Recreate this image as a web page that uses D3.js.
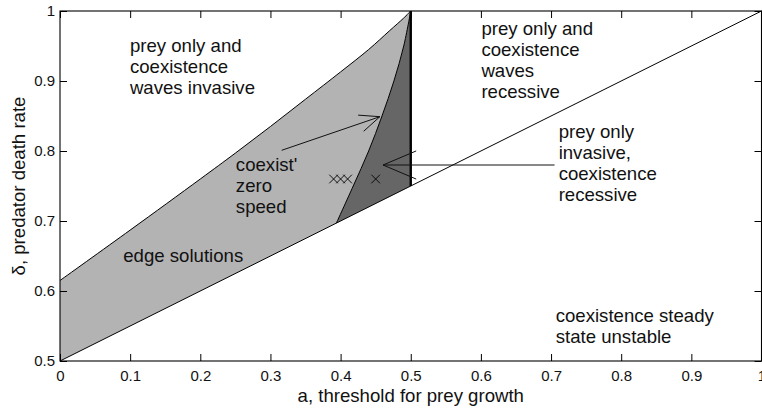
<!DOCTYPE html>
<html>
<head>
<meta charset="utf-8">
<script src="https://cdn.jsdelivr.net/npm/d3@7"></script>
<style>
  html, body { margin: 0; padding: 0; background: #fff; }
  svg { display: block; }
  text { font-family: "Liberation Sans", Arial, Helvetica, sans-serif; fill: #111; }
</style>
</head>
<body>
<svg id="chart" width="762" height="411"></svg>
<script>
// Upper edge of the light region (boundary of "waves invasive" zone)
const upperA = [0, 0.10, 0.20, 0.25, 0.30, 0.35, 0.40, 0.44, 0.47, 0.49, 0.5];
const upperD = [0.615, 0.687, 0.760, 0.797, 0.835, 0.874, 0.913, 0.945, 0.972, 0.990, 1.0];

// Zero-speed curve separating the light and dark regions
const innerA = [0.5, 0.490, 0.476, 0.459, 0.440, 0.418, 0.394];
const innerD = [1.0, 0.95, 0.90, 0.85, 0.80, 0.75, 0.697];

// Straight boundary delta = (1 + a) / 2
const diagA = [0, 1];
const diagD = [0.5, 1];

// Vertical boundary at a = 0.5
const wallA = [0.5, 0.5];
const wallD = [0.75, 1.0];

// Simulation points
const crossA = [0.39, 0.40, 0.41, 0.45];
const crossD = [0.76, 0.76, 0.76, 0.76];

// Arrows: tail and tip positions
const arrowTailA = [0.316, 0.705];
const arrowTailD = [0.801, 0.78];
const arrowTipA = [0.456, 0.4605];
const arrowTipD = [0.849, 0.78];

// Axis ticks
const xTicks = [0, 0.1, 0.2, 0.3, 0.4, 0.5, 0.6, 0.7, 0.8, 0.9, 1];
const yTicks = [0.5, 0.6, 0.7, 0.8, 0.9, 1];
const xTickLabels = ["0", "0.1", "0.2", "0.3", "0.4", "0.5", "0.6", "0.7", "0.8", "0.9", "1"];
const yTickLabels = ["0.5", "0.6", "0.7", "0.8", "0.9", "1"];

// Region annotations
const noteLines = [
  ["prey only and", "coexistence", "waves invasive"],
  ["prey only and", "coexistence", "waves", "recessive"],
  ["prey only", "invasive,", "coexistence", "recessive"],
  ["coexist'", "zero", "speed"],
  ["edge solutions"],
  ["coexistence steady", "state unstable"]
];
const noteA = [0.0997, 0.6007, 0.7108, 0.2507, 0.0902, 0.7066];
const noteD = [0.9414, 0.9657, 0.818, 0.7714, 0.641, 0.5561];

const xLabel = "a, threshold for prey growth";
const yLabel = "δ, predator death rate";

(function draw() {
  const svg = d3.select("#chart");
  const pl = 60, pr = 761.5, pt0 = 11, pb = 361;
  const noteSize = "18.6px";

  const x = d3.scaleLinear().domain([0, 1]).range([pl, pr]);
  const y = d3.scaleLinear().domain([0.5, 1]).range([pb, pt0]);

  const zip = (as, ds) => as.map((a, i) => [a, ds[i]]);
  const upperPts = zip(upperA, upperD);
  const innerPts = zip(innerA, innerD);

  const curve = d3.line().x(d => x(d[0])).y(d => y(d[1])).curve(d3.curveCatmullRom.alpha(0.5));
  const straight = d3.line().x(d => x(d[0])).y(d => y(d[1]));
  const pt = (a, d) => `${x(a)},${y(d)}`;

  const upperPath = curve(upperPts);
  const innerPath = curve(innerPts);

  // Light region: left axis, upper edge, zero-speed curve, back along the diagonal
  svg.append("path")
    .attr("d", "M" + pt(0, 0.5) + "L" + upperPath.slice(1) + "L" + innerPath.slice(1) + "Z")
    .attr("fill", "#b3b3b3").attr("stroke", "none");

  // Dark region: zero-speed curve, diagonal, vertical wall
  svg.append("path")
    .attr("d", innerPath + "L" + pt(0.5, 0.75) + "Z")
    .attr("fill", "#666666").attr("stroke", "none");

  // Boundary lines
  svg.append("path").attr("d", upperPath).attr("fill", "none").attr("stroke", "#000").attr("stroke-width", 1);
  svg.append("path").attr("d", innerPath).attr("fill", "none").attr("stroke", "#000").attr("stroke-width", 1);
  svg.append("path").attr("d", straight(zip(diagA, diagD))).attr("fill", "none").attr("stroke", "#000").attr("stroke-width", 1);
  svg.append("path").attr("d", straight(zip(wallA, wallD))).attr("fill", "none").attr("stroke", "#000").attr("stroke-width", 2.4);

  // Crosses
  const cs = 4.3;
  const crossG = svg.append("g").attr("stroke", "#000").attr("stroke-width", 0.9).attr("fill", "none");
  crossA.forEach((a, i) => {
    const cx = x(a), cy = y(crossD[i]);
    crossG.append("path").attr("d", `M${cx - cs},${cy - cs}L${cx + cs},${cy + cs}M${cx - cs},${cy + cs}L${cx + cs},${cy - cs}`);
  });

  // Arrows with open heads
  const arrowG = svg.append("g").attr("stroke", "#111").attr("stroke-width", 1).attr("fill", "none");
  arrowTipA.forEach((ta, i) => {
    const x0 = x(arrowTailA[i]), y0 = y(arrowTailD[i]);
    const x1 = x(ta), y1 = y(arrowTipD[i]);
    const ang = Math.atan2(y0 - y1, x0 - x1);
    const len = Math.hypot(x1 - x0, y1 - y0) * 0.21;
    const spread = 23 * Math.PI / 180;
    const b1 = [x1 + len * Math.cos(ang + spread), y1 + len * Math.sin(ang + spread)];
    const b2 = [x1 + len * Math.cos(ang - spread), y1 + len * Math.sin(ang - spread)];
    arrowG.append("path").attr("d", `M${x0},${y0}L${x1},${y1}M${b1[0]},${b1[1]}L${x1},${y1}L${b2[0]},${b2[1]}`);
  });

  // Axes box and inward ticks
  const tickLen = 7;
  const axisG = svg.append("g");
  axisG.append("rect").attr("x", pl).attr("y", pt0).attr("width", pr - pl).attr("height", pb - pt0)
    .attr("fill", "none").attr("stroke", "#000").attr("stroke-width", 1.1);

  axisG.append("g").attr("transform", `translate(0,${pb})`)
    .call(d3.axisBottom(x).tickValues(xTicks).tickSize(-tickLen).tickPadding(9).tickFormat((d, i) => xTickLabels[i]))
    .call(g => g.select(".domain").remove());
  axisG.append("g").attr("transform", `translate(0,${pt0})`)
    .call(d3.axisTop(x).tickValues(xTicks).tickSize(-tickLen).tickFormat(""))
    .call(g => g.select(".domain").remove());
  axisG.append("g").attr("transform", `translate(${pl},0)`)
    .call(d3.axisLeft(y).tickValues(yTicks).tickSize(-tickLen).tickPadding(5).tickFormat((d, i) => yTickLabels[i]))
    .call(g => g.select(".domain").remove());
  axisG.append("g").attr("transform", `translate(${pr},0)`)
    .call(d3.axisRight(y).tickValues(yTicks).tickSize(-tickLen).tickFormat(""))
    .call(g => g.select(".domain").remove());

  axisG.selectAll(".tick line").attr("stroke", "#000").attr("stroke-width", 1);
  axisG.selectAll(".tick text")
    .style("font-family", '"Liberation Sans", Arial, Helvetica, sans-serif')
    .style("font-size", "15px").attr("fill", "#111");

  // Axis titles
  svg.append("text").attr("x", (pl + pr) / 2).attr("y", 402)
    .attr("text-anchor", "middle").style("font-size", noteSize).text(xLabel);
  svg.append("text").attr("transform", `translate(25,${(pt0 + pb) / 2}) rotate(-90)`)
    .attr("text-anchor", "middle").style("font-size", noteSize).text(yLabel);

  // Region annotations
  noteLines.forEach((lines, i) => {
    const t = svg.append("text").attr("x", x(noteA[i])).attr("y", y(noteD[i])).style("font-size", noteSize);
    lines.forEach((s, j) => {
      t.append("tspan").attr("x", x(noteA[i])).attr("dy", j === 0 ? 0 : 21).text(s);
    });
  });
})();
</script>
</body>
</html>
